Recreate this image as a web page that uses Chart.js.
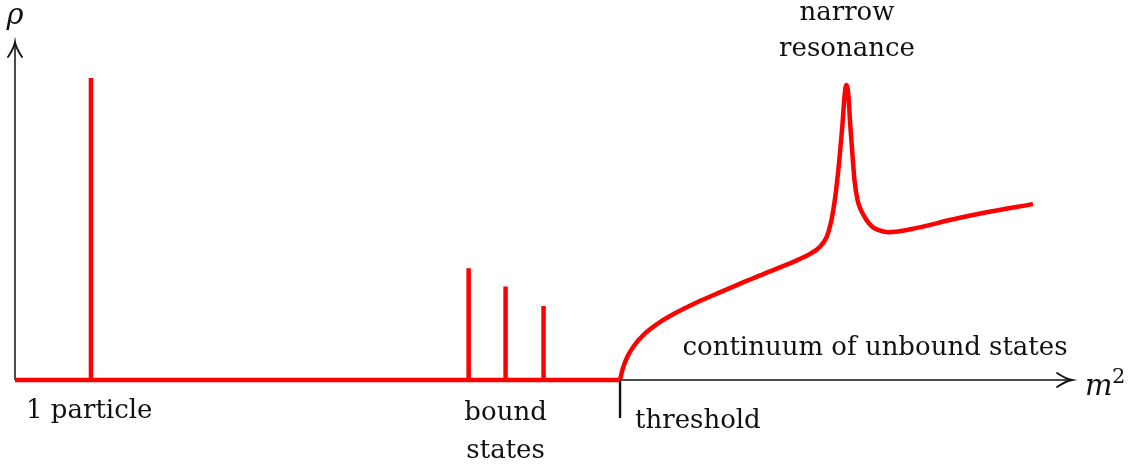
<!DOCTYPE html>
<html>
<head>
<meta charset="utf-8">
<script src="https://cdn.jsdelivr.net/npm/chart.js@4"></script>
<style>
  body { margin: 0; background: #fff; }
  #wrap { width: 1141px; height: 466px; position: relative; }
</style>
</head>
<body>
<div id="wrap"><canvas id="spectreChart"></canvas></div>
<script>
// Données (x : 0..100 le long de m^2, y : 0..100 le long de rho)
const pics = [7.2, 43.0, 46.5, 50.1];          // 1 particule + 3 états liés
const hauteursPics = [91.5, 33.9, 28.3, 22.4];
const seuil = 57.35;

const continuumX = [57.35, 57.57, 57.98, 58.61, 59.72, 60.98, 62.56, 64.77, 66.99, 69.48, 72.04,
  73.77, 75.36, 76.3, 76.94, 77.32, 77.56, 77.75, 77.94, 78.12, 78.43, 78.64, 78.8,
  78.99, 79.17, 79.43, 79.57, 79.86, 80.19, 80.71, 81.23, 81.8, 82.75,
  85.5, 88.63, 91.75, 96.49];
const continuumY = [0, 3.0, 6.6, 10.1, 14.1, 17.2, 20.2, 23.7, 26.8, 30.2, 33.5,
  35.8, 38.2, 40.4, 43.4, 47.5, 51.5, 55.5, 60.6, 66.1, 77.3, 86.4, 89.4,
  86.4, 77.3, 66.1, 60.6, 54.5, 51.5, 48.5, 46.5, 45.5, 44.8,
  46.1, 48.5, 50.6, 53.3];

const rouge = "#ff0000";
const police = "26px 'DejaVu Serif'";

// ligne de base + pics (segments droits)
const lignePics = [{ x: 0, y: 0 }];
pics.forEach((p, i) => {
  lignePics.push({ x: p, y: 0 }, { x: p, y: hauteursPics[i] }, { x: p, y: 0 });
});
lignePics.push({ x: seuil, y: 0 });

const continuum = continuumX.map((x, i) => ({ x: x, y: continuumY[i] }));

function fleche(ctx, x, y, dir) {
  // pointe façon LaTeX "to" : deux barbes courbes
  ctx.save();
  ctx.translate(x, y);
  if (dir === "haut") ctx.rotate(-Math.PI / 2);
  ctx.lineWidth = 1.8;
  ctx.lineCap = "round";
  ctx.beginPath();
  ctx.moveTo(-15, -7);
  ctx.quadraticCurveTo(-6, -1, 0, 0);
  ctx.quadraticCurveTo(-6, 1, -15, 7);
  ctx.stroke();
  ctx.restore();
}

const axesPlugin = {
  id: "axesPlugin",
  beforeDatasetsDraw(chart) {
    const ctx = chart.ctx;
    const xs = chart.scales.x, ys = chart.scales.y;
    const x0 = xs.getPixelForValue(0), y0 = ys.getPixelForValue(0);
    const xFin = xs.getPixelForValue(100) + 2, yFin = chart.chartArea.top - 8;
    ctx.save();
    ctx.strokeStyle = "#111";
    ctx.fillStyle = "#111";
    ctx.lineWidth = 1.5;
    ctx.beginPath();
    ctx.moveTo(x0, y0);
    ctx.lineTo(xFin - 1, y0);
    ctx.moveTo(x0, y0);
    ctx.lineTo(x0, yFin + 1);
    ctx.stroke();
    fleche(ctx, xFin, y0, "droite");
    fleche(ctx, x0, yFin, "haut");
    // trait du seuil
    const xs0 = xs.getPixelForValue(seuil);
    ctx.lineWidth = 2.4;
    ctx.beginPath();
    ctx.moveTo(xs0, y0);
    ctx.lineTo(xs0, y0 + 38);
    ctx.stroke();
    ctx.restore();
  },
  afterDraw(chart) {
    const ctx = chart.ctx;
    const xs = chart.scales.x, ys = chart.scales.y;
    const y0 = ys.getPixelForValue(0);
    ctx.save();
    ctx.fillStyle = "#111";
    ctx.textBaseline = "alphabetic";

    // étiquettes des axes
    ctx.textAlign = "center";
    ctx.font = "italic 29px 'DejaVu Serif'";
    ctx.fillText("ρ", xs.getPixelForValue(0), 24);
    ctx.textAlign = "left";
    ctx.fillText("m", xs.getPixelForValue(100) + 15, y0 + 15);
    ctx.font = "21px 'DejaVu Serif'";
    ctx.fillText("2", xs.getPixelForValue(100) + 42, y0 + 3);

    ctx.font = police;
    ctx.textAlign = "left";
    ctx.fillText("1 particle", 26, y0 + 38);

    ctx.textAlign = "center";
    const xLies = xs.getPixelForValue(pics[2]);
    ctx.fillText("bound", xLies, y0 + 40);
    ctx.fillText("states", xLies, y0 + 78);

    ctx.textAlign = "left";
    ctx.fillText("threshold", xs.getPixelForValue(seuil) + 15, y0 + 48);

    ctx.textAlign = "center";
    ctx.fillText("continuum of unbound states", 875, y0 - 25);

    const xPic = xs.getPixelForValue(78.86);
    ctx.fillText("narrow", xPic, 20);
    ctx.fillText("resonance", xPic, 56);
    ctx.restore();
  }
};

const ctx = document.getElementById("spectreChart").getContext("2d");
new Chart(ctx, {
  type: "line",
  data: {
    datasets: [
      {
        label: "pics",
        data: lignePics,
        borderColor: rouge,
        borderWidth: 4.5,
        pointRadius: 0,
        tension: 0,
        clip: false,
        borderJoinStyle: "miter",
        borderCapStyle: "butt"
      },
      {
        label: "continuum",
        data: continuum,
        borderColor: rouge,
        borderWidth: 4.5,
        pointRadius: 0,
        cubicInterpolationMode: "monotone",
        clip: false,
        borderJoinStyle: "round",
        borderCapStyle: "butt"
      }
    ]
  },
  options: {
    responsive: true,
    maintainAspectRatio: false,
    animation: false,
    events: [],
    layout: { padding: { left: 15, right: 71, top: 50, bottom: 86 } },
    plugins: {
      legend: { display: false },
      tooltip: { enabled: false }
    },
    scales: {
      x: { type: "linear", min: 0, max: 100, display: false },
      y: { type: "linear", min: 0, max: 100, display: false }
    }
  },
  plugins: [axesPlugin]
});
</script>
</body>
</html>
